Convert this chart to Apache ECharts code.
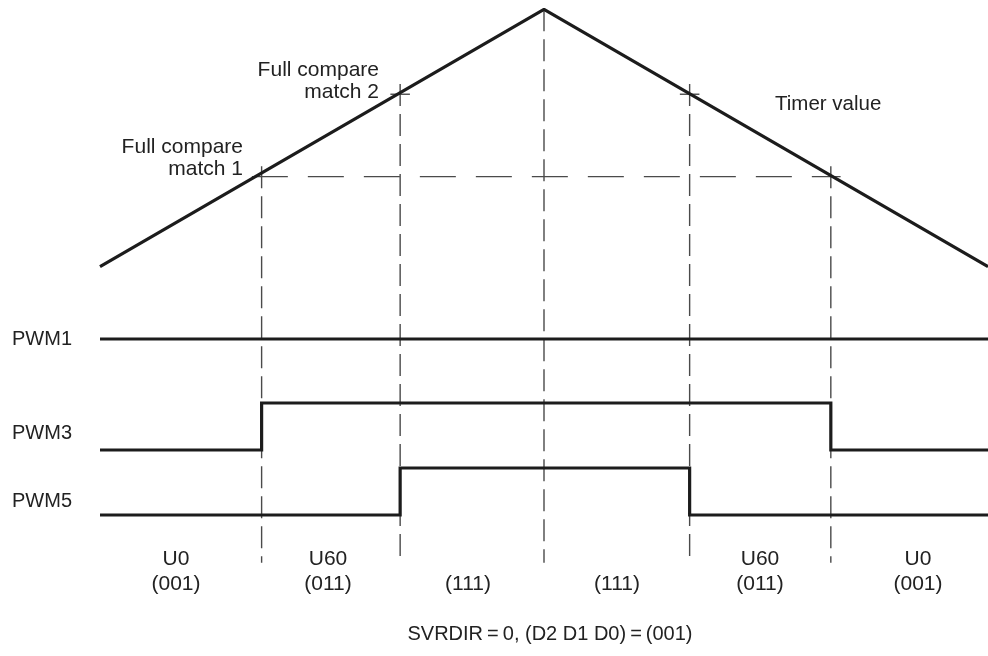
<!DOCTYPE html>
<html>
<head>
<meta charset="utf-8">
<title>SVRDIR timing</title>
<script src="https://cdn.jsdelivr.net/npm/echarts@6/dist/echarts.min.js"></script>
<style>
  html, body { margin: 0; padding: 0; background: #fff; }
  #main { width: 988px; height: 656px; }
</style>
</head>
<body>
<div id="main"></div>
<script>
// timer ramp (time in % of period, value in % of max count)
const timerTime = [0, 50, 100]
const timerValue = [0, 100, 0]
const compare1 = 35
const compare2 = 67

// compare events along the period
const edgeTime = [18.2, 33.8, 50, 66.4, 82.3]
const edgeLevel = [compare1, compare2, 100, compare2, compare1]

// output signals
const pwmNames = ['PWM1', 'PWM3', 'PWM5']
const pwm1Time = [0, 100]
const pwm1Level = [1, 1]
const pwm3Time = [0, 18.2, 82.3, 100]
const pwm3Level = [0, 1, 0, 0]
const pwm5Time = [0, 33.8, 66.4, 100]
const pwm5Level = [0, 1, 0, 0]

// sector labels under each interval
const sectorNames = ['U0', 'U60', '', '', 'U60', 'U0']
const sectorCodes = ['(001)', '(011)', '(111)', '(111)', '(011)', '(001)']

const FONT = '"Liberation Sans", Arial, Helvetica, sans-serif'
const INK = '#1c1c1c'
const GUIDE = '#4a4a4a'
const Y_FLOOR = -115 // where the dashed guides stop
const OVER = 1.1 // guide overshoot past a crossing (time units)
const RISE = 4 // guide overshoot above a crossing (timer units)

const zip = (a, b) => a.map((v, i) => [v, b[i]])

const chart = echarts.init(document.getElementById('main'), null, { renderer: 'canvas' })

const grids = [
  { left: 100, right: 0, top: 9.3, height: 553.4 }, // timer + guides
  { left: 100, right: 0, top: 339, height: 47 },
  { left: 100, right: 0, top: 403, height: 47 },
  { left: 100, right: 0, top: 468, height: 47 }
]

const xAxes = grids.map((g, i) => ({ type: 'value', gridIndex: i, min: 0, max: 100, show: false }))
const yAxes = [{ type: 'value', gridIndex: 0, min: Y_FLOOR, max: 100, show: false }]
  .concat([1, 2, 3].map(i => ({ type: 'value', gridIndex: i, min: 0, max: 1, show: false })))

const guideStyle = (dash) => ({ color: GUIDE, width: 1.4, type: dash })

const series = []

// vertical dashed guides
edgeTime.forEach((t, i) => {
  const top = edgeLevel[i] === 100 ? 100 : edgeLevel[i] + RISE
  series.push({
    type: 'line', xAxisIndex: 0, yAxisIndex: 0, data: [[t, top], [t, Y_FLOOR]],
    symbol: 'none', clip: false, silent: true, lineStyle: guideStyle([22, 8])
  })
})

// compare 1 level
series.push({
  type: 'line', xAxisIndex: 0, yAxisIndex: 0,
  data: [[edgeTime[0] - OVER, compare1], [edgeTime[4] + OVER, compare1]],
  symbol: 'none', clip: false, silent: true, lineStyle: guideStyle([36, 20])
})

// compare 2 ticks
;[edgeTime[1], edgeTime[3]].forEach(t => {
  series.push({
    type: 'line', xAxisIndex: 0, yAxisIndex: 0,
    data: [[t - OVER, compare2], [t + OVER, compare2]],
    symbol: 'none', clip: false, silent: true, lineStyle: { color: GUIDE, width: 1.4 }
  })
})

// timer value
series.push({
  type: 'line', xAxisIndex: 0, yAxisIndex: 0, data: zip(timerTime, timerValue),
  symbol: 'none', clip: false, silent: true, lineStyle: { color: INK, width: 3.2 }
})

// PWM outputs
;[zip(pwm1Time, pwm1Level), zip(pwm3Time, pwm3Level), zip(pwm5Time, pwm5Level)].forEach((d, i) => {
  series.push({
    name: pwmNames[i], type: 'line', xAxisIndex: i + 1, yAxisIndex: i + 1, data: d,
    step: 'end', symbol: 'none', clip: false, silent: true,
    lineStyle: { color: INK, width: 3.2, join: 'miter' }
  })
})

const txt = (text, x, y, align, size) => ({
  type: 'text', x: x, y: y, silent: true,
  style: {
    text: text, fill: '#222', font: (size || 21) + 'px ' + FONT,
    textAlign: align || 'center', textVerticalAlign: 'middle', lineHeight: 22
  }
})

const labelY = [339, 433, 501]
const sectorX = [176, 328, 468, 617, 760, 918]

const graphics = [
  txt('Full compare\nmatch 1', 243, 158, 'right'),
  txt('Full compare\nmatch 2', 379, 81, 'right'),
  txt('Timer value', 775, 104, 'left', 20.5),
  txt('SVRDIR\u2009=\u20090, (D2 D1 D0)\u2009=\u2009(001)', 550, 634, 'center', 20)
]
pwmNames.forEach((n, i) => graphics.push(txt(n, 12, labelY[i], 'left', 20)))
sectorX.forEach((x, i) => {
  if (sectorNames[i]) graphics.push(txt(sectorNames[i], x, 559))
  graphics.push(txt(sectorCodes[i], x, 584))
})

chart.setOption({
  backgroundColor: '#fff',
  animation: false,
  grid: grids,
  xAxis: xAxes,
  yAxis: yAxes,
  series: series,
  graphic: graphics
})
</script>
</body>
</html>
